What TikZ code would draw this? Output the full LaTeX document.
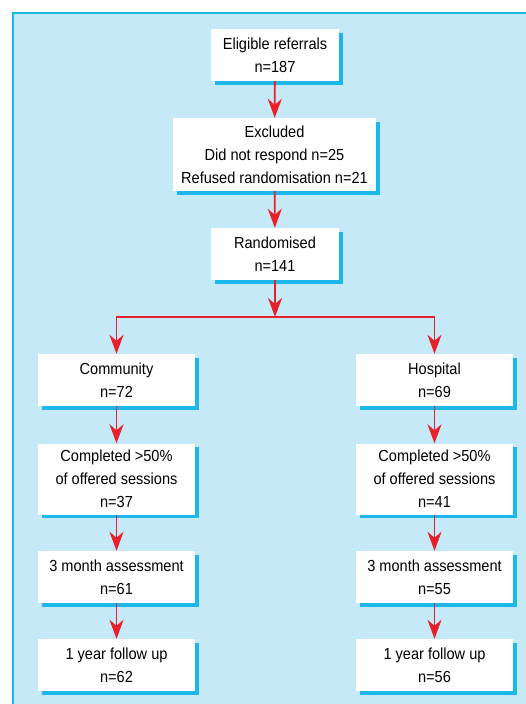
\documentclass[tikz,border=0pt]{standalone}
\usepackage{fontspec}
\setmainfont{Liberation Sans}[FakeStretch=0.91]
\usepackage{tikz}
\usetikzlibrary{arrows.meta,positioning,shadows}
\definecolor{fcpanel}{HTML}{C6E9F8}
\definecolor{fcedge}{HTML}{1CB8EC}
\definecolor{fcred}{HTML}{E8202A}
\newcommand{\fcfont}{\fontsize{16}{23}\selectfont}

\begin{document}
\begin{tikzpicture}[
  x=1pt, y=-1pt,
  fcbox/.style={draw=none, fill=white, inner sep=0pt, align=center, font=\fcfont,
                minimum width=157pt, minimum height=52pt,
                drop shadow={shadow xshift=3.5pt, shadow yshift=-3.5pt, fill=fcedge, opacity=1}},
  arr/.style={-{Stealth[length=19pt,width=14pt,inset=6pt]}, line width=1.8pt, color=fcred}
]
\useasboundingbox (0,0) rectangle (525,704);

% ── Panel ─────────────────────────────────────────────────────
\fill[fcpanel] (12,12) rectangle (526,705);
\draw[fcedge, line width=2pt] (13,705) -- (13,13) -- (526,13);

% ── Top column ────────────────────────────────────────────────
\node[fcbox, minimum width=128pt] (elig) at (275,55) {Eligible referrals\\n=187};
\node[fcbox, minimum width=203pt, minimum height=73pt] (excl) at (274.5,154.5)
  {Excluded\\Did not respond n=25\\Refused randomisation n=21};
\node[fcbox, minimum width=128pt] (rand) at (275,254) {Randomised\\n=141};
\coordinate (split) at (275,317);

% ── Community arm ─────────────────────────────────────────────
\node[fcbox] (comm) at (116.5,380) {Community\\n=72};
\node[fcbox, minimum height=71pt] (commdone) at (116.5,479) {Completed >50\%\\of offered sessions\\n=37};
\node[fcbox] (comm3m) at (116.5,577) {3 month assessment\\n=61};
\node[fcbox] (comm1y) at (116.5,665) {1 year follow up\\n=62};

% ── Hospital arm ──────────────────────────────────────────────
\node[fcbox] (hosp) at (434.5,380) {Hospital\\n=69};
\node[fcbox, minimum height=71pt] (hospdone) at (434.5,479) {Completed >50\%\\of offered sessions\\n=41};
\node[fcbox] (hosp3m) at (434.5,577) {3 month assessment\\n=55};
\node[fcbox] (hosp1y) at (434.5,665) {1 year follow up\\n=56};

% ── Arrows ────────────────────────────────────────────────────
\draw[arr] (elig) -- (excl);
\draw[arr] (excl) -- (rand);
\draw[arr] (rand) -- (split);
\draw[arr] (split) -| (comm.north);
\draw[arr] (split) -| (hosp.north);
\draw[arr] (comm) -- (commdone);
\draw[arr] (commdone) -- (comm3m);
\draw[arr] (comm3m) -- (comm1y);
\draw[arr] (hosp) -- (hospdone);
\draw[arr] (hospdone) -- (hosp3m);
\draw[arr] (hosp3m) -- (hosp1y);
\end{tikzpicture}
\end{document}
